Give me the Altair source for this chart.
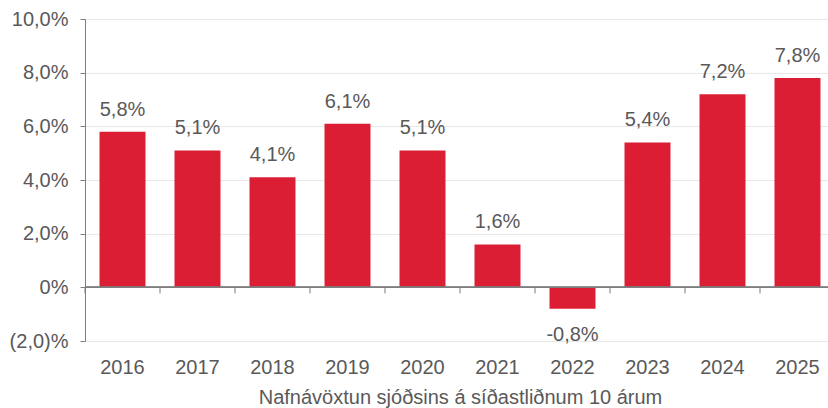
import altair as alt
import pandas as pd

years = ["2016", "2017", "2018", "2019", "2020", "2021", "2022", "2023", "2024", "2025"]
returns = [5.8, 5.1, 4.1, 6.1, 5.1, 1.6, -0.8, 5.4, 7.2, 7.8]
y_ticks = [-2, 0, 2, 4, 6, 8, 10]
axis_title = "Nafnávöxtun sjóðsins á síðastliðnum 10 árum"

df = pd.DataFrame({"year": years, "value": returns})

FONT = "Liberation Sans"
TXT = "#595959"
RED = "#DC1E35"
AXIS = "#7F7F7F"

xscale = alt.Scale(range=[0, 750], paddingInner=0.387, paddingOuter=0.1935)
yscale = alt.Scale(domain=[-2, 10], nice=False, zero=False)

label_expr = (
    "datum.value == 0 ? '0%' : (datum.value < 0 ? '(' + replace(format(-datum.value, '.1f'), '.', ',') + ')%' "
    ": replace(format(datum.value, '.1f'), '.', ',') + '%')"
)

base = alt.Chart(df)

bars = base.mark_bar(color=RED).encode(
    x=alt.X(
        "year:N",
        scale=xscale,
        sort=years,
        axis=alt.Axis(
            title=axis_title,
            domain=False,
            ticks=False,
            labelAngle=0,
            labelFont=FONT,
            labelFontSize=20,
            labelColor=TXT,
            labelPadding=16,
            titleFont=FONT,
            titleFontSize=20,
            titleFontWeight="normal",
            titleColor=TXT,
            titlePadding=10,
        ),
    ),
    y=alt.Y(
        "value:Q",
        scale=yscale,
        axis=alt.Axis(
            title=None,
            values=y_ticks,
            labelExpr=label_expr,
            labelFont=FONT,
            labelFontSize=20,
            labelColor=TXT,
            labelPadding=12,
            domainColor=AXIS,
            tickColor=AXIS,
            tickSize=5,
            gridColor="#E8E8E8",
            grid=True,
        ),
    ),
)

zero_line = base.mark_rule(color=AXIS, strokeWidth=1).encode(
    y=alt.datum(0), x=alt.value(0), x2=alt.value(743)
)

# small ticks hanging below the zero line at the category boundaries
ticks = base.mark_bar(color=AXIS, width=1, xOffset=-37.5).encode(
    x=alt.X("year:N", sort=years),
    y=alt.datum(0),
    y2=alt.datum(-0.23),
)

label_calc = (
    "(datum.value < 0 ? '-' : '') + replace(format(abs(datum.value), '.1f'), '.', ',') + '%'"
)

pos_labels = (
    base.transform_filter("datum.value >= 0")
    .transform_calculate(label=label_calc)
    .mark_text(font=FONT, fontSize=20, color=TXT, baseline="alphabetic", dy=-16)
    .encode(x=alt.X("year:N", sort=years), y="value:Q", text="label:N")
)

neg_labels = (
    base.transform_filter("datum.value < 0")
    .transform_calculate(label=label_calc)
    .mark_text(font=FONT, fontSize=20, color=TXT, baseline="alphabetic", dy=32)
    .encode(x=alt.X("year:N", sort=years), y="value:Q", text="label:N")
)

chart = (
    alt.layer(bars, zero_line, ticks, pos_labels, neg_labels)
    .properties(
        width=743,
        height=322,
        autosize=alt.AutoSizeParams(type="none"),
        padding={"left": 85, "top": 19, "right": 0, "bottom": 67},
    )
    .configure_view(stroke=None)
    .configure(background="white")
)

chart.save("out.html", embed_options={"renderer": "svg", "actions": False})
